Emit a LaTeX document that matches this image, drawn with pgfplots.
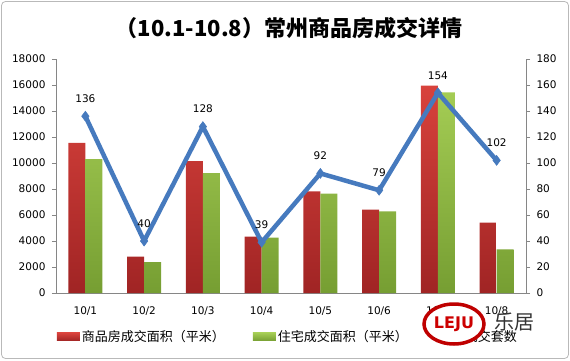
\documentclass[border=0pt]{standalone}
\usepackage{pgfplots}
\pgfplotsset{compat=1.18}
\usepackage{fontspec}
\setmainfont{DejaVu Sans}
\newfontfamily\cjk{Noto Sans CJK SC}
\definecolor{redtop}{RGB}{216,66,60}
\definecolor{redbot}{RGB}{160,36,36}
\definecolor{grntop}{RGB}{164,204,84}
\definecolor{grnbot}{RGB}{118,158,50}
\definecolor{lineblue}{RGB}{70,122,190}
\definecolor{axgray}{RGB}{134,134,134}
\begin{document}
\begin{tikzpicture}
\path (0pt,0pt) rectangle (570pt,360pt);
\draw[gray!55, line width=0.8pt, rounded corners=4pt] (1.5pt,1.5pt) rectangle (568.5pt,358.5pt);
\node[font=\cjk\bfseries\fontsize{22}{26}\selectfont] at (289pt,332pt) {（10.1-10.8）常州商品房成交详情};
\begin{axis}[
  at={(56pt,67pt)}, anchor=south west, scale only axis,
  width=470pt, height=234pt,
  xmin=-0.5, xmax=7.5, ymin=0, ymax=18000,
  xtick={0,...,7}, xticklabels={10/1,10/2,10/3,10/4,10/5,10/6,10/7,10/8},
  ytick={0,2000,...,18000}, scaled y ticks=false,
  axis y line*=left, axis x line*=bottom,
  axis line style={draw=axgray, -},
  tick align=outside, major tick length=4pt,
  ytick style={draw=axgray},
  xtick style={draw=none},
  /pgf/number format/.cd, 1000 sep={}, assume math mode=true, /pgfplots/.cd,
  yticklabel style={font=\fontsize{10.5}{12}\selectfont, xshift=-3pt},
  xticklabel style={font=\fontsize{10.5}{12}\selectfont, yshift=-6pt},
  ybar=0pt, bar width=17pt,
  legend columns=3,
  legend style={at={(-0.005,-0.188)}, anchor=west, draw=none, fill=none,
    font=\cjk\fontsize{13}{15}\selectfont,
    /tikz/every even column/.append style={column sep=26pt}},
]
\addplot[draw=none, top color=redtop, bottom color=redbot,
  legend image code/.code={\fill[top color=redtop, bottom color=redbot] (0pt,-4pt) rectangle (23pt,4pt);}]
  coordinates {(0,11540) (1,2790) (2,10150) (3,4330) (4,7810) (5,6420) (6,15960) (7,5420)};
\addlegendentry{商品房成交面积（平米）}
\addplot[draw=none, top color=grntop, bottom color=grnbot,
  legend image code/.code={\fill[top color=grntop, bottom color=grnbot] (0pt,-4pt) rectangle (23pt,4pt);}]
  coordinates {(0,10300) (1,2380) (2,9230) (3,4260) (4,7650) (5,6270) (6,15440) (7,3350)};
\addlegendentry{住宅成交面积（平米）}
\addlegendimage{legend image code/.code={\draw[lineblue, line width=4pt] (0pt,0pt) -- (23pt,0pt); \fill[lineblue] (11.5pt,0pt) +(0,4.5pt) -- +(4.5pt,0) -- +(0,-4.5pt) -- +(-4.5pt,0) -- cycle;}}
\addlegendentry{成交套数}
\end{axis}
\begin{axis}[
  at={(56pt,67pt)}, anchor=south west, scale only axis,
  width=470pt, height=234pt,
  xmin=-0.5, xmax=7.5, ymin=0, ymax=180,
  ytick={0,20,...,180},
  axis y line*=right, axis x line=none,
  axis line style={draw=axgray, -},
  tick align=outside, major tick length=4pt,
  ytick style={draw=axgray},
  /pgf/number format/.cd, assume math mode=true, /pgfplots/.cd,
  yticklabel style={font=\fontsize{10.5}{12}\selectfont, xshift=3pt},
]
\addplot[lineblue, line width=4.5pt, mark=diamond*, mark size=5pt, mark options={fill=lineblue, line width=0.5pt},
  nodes near coords, every node near coord/.append style={font=\fontsize{10.5}{12}\selectfont, text=black, yshift=10pt}]
  coordinates {(0,136) (1,40) (2,128) (3,39) (4,92) (5,79) (6,154) (7,102)};
\end{axis}
\draw[red!75!black, line width=3.5pt, fill=white] (454pt,36pt) ellipse (30pt and 20pt);
\node[text=red!80!black, font=\bfseries\fontsize{16}{16}\selectfont] at (454pt,36pt) {LEJU};
\node[font=\cjk\fontsize{20}{20}\selectfont, text=black!80] at (514pt,38pt) {乐居};
\end{tikzpicture}
\end{document}
